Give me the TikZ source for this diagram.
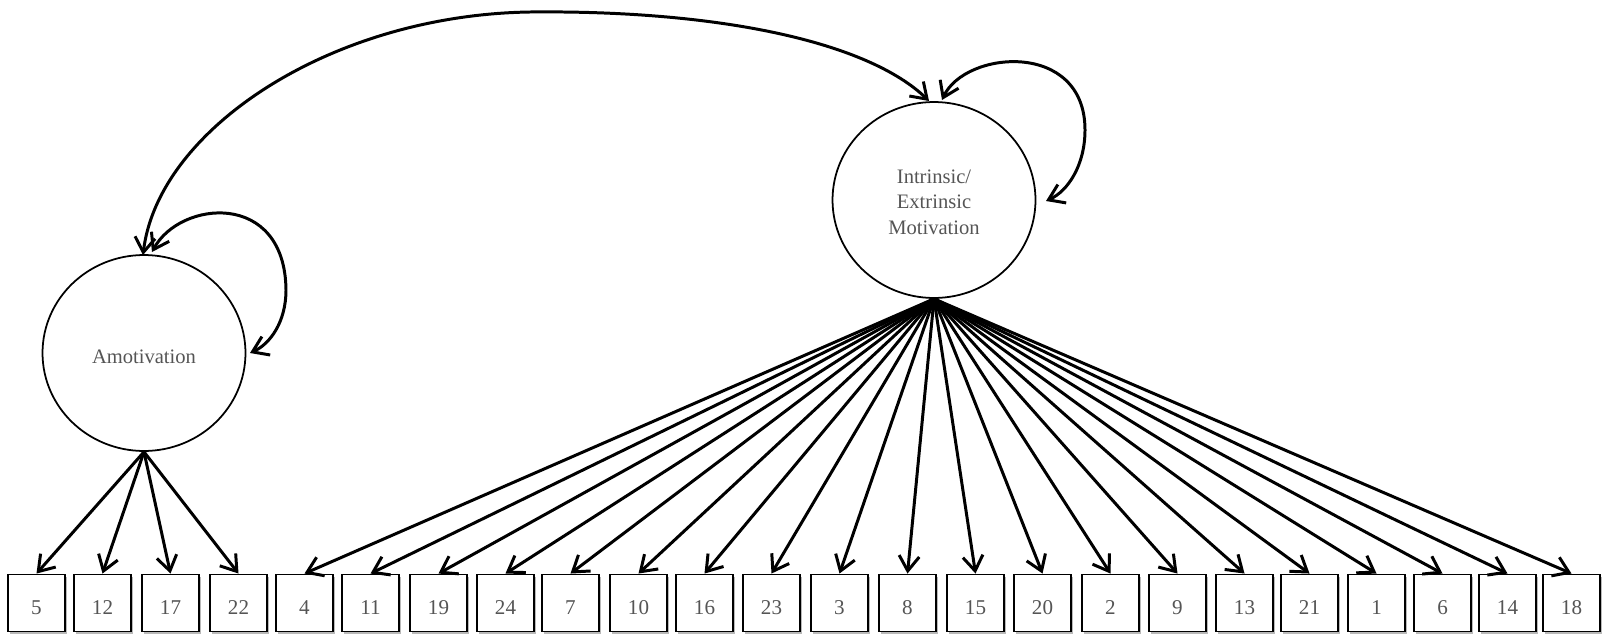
\documentclass[tikz,border=0pt]{standalone}
\usepackage{fontspec}
\setmainfont{Liberation Serif}
\usetikzlibrary{arrows.meta,shadows,shapes.geometric}
\definecolor{txtgray}{HTML}{555555}
\begin{document}
\begin{tikzpicture}[x=0.02cm,y=-0.02cm,
  latent/.style={ellipse,draw,line width=1pt,minimum width=4.06cm,minimum height=3.92cm,inner sep=0pt},
  lbltext/.style={inner sep=0pt,text=txtgray,font=\fontsize{11.7}{14.5}\selectfont,align=center},
  item/.style={rectangle,draw,line width=1.1pt,minimum size=1.14cm,inner sep=0pt,fill=white,
    text=txtgray,font=\fontsize{12}{14}\selectfont,text height=12.7pt,text depth=0pt,
    drop shadow={shadow xshift=0.045cm,shadow yshift=-0.045cm,fill=gray!55,opacity=1}},
  load/.style={-{Straight Barb[length=8.5pt,width=11.5pt]},line width=1.7pt},
  cov/.style={{Straight Barb[length=8.5pt,width=11.5pt]}-{Straight Barb[length=8.5pt,width=11.5pt]},line width=1.7pt},
]
\useasboundingbox (0,0) rectangle (1604,635);

\node[latent] (A) at (144,353) {};
\node[lbltext] (At) at (144,357) {Amotivation};
\node[latent] (I) at (934,200) {};
\node[lbltext] (It) at (934,202) {Intrinsic/\\Extrinsic\\Motivation};

\foreach \lab/\lx in {5/8,12/74,17/142,22/210}{
  \node[item] (b\lab) at (\lx+28.5,603) {\lab};
  \draw[load] (A.south) -- (b\lab.north);
}
\foreach \lab/\lx in {4/276,11/342,19/410,24/477,7/542,10/610,16/676,23/743,3/811,8/879,15/947,20/1014,2/1082,9/1149,13/1216,21/1281,1/1348,6/1414,14/1479,18/1543}{
  \node[item] (b\lab) at (\lx+28.5,603) {\lab};
  \draw[load] (I.south) -- (b\lab.north);
}

% covariance between factors
\coordinate (Atop) at (143,255);
\coordinate (Itop) at (929,101);
\draw[cov] (Atop) .. controls (158,130) and (330,15) .. (530,12)
  .. controls (720,10) and (868,42) .. (Itop);

% variances
\coordinate (Aloop) at (152,252);
\coordinate (Aend) at (250,353);
\draw[cov] (Aloop) .. controls (180,200) and (285,190) .. (286,290)
  .. controls (286,322) and (270,344) .. (Aend);

\coordinate (Iloop) at (942,100);
\coordinate (Iend) at (1046,201);
\draw[cov] (Iloop) .. controls (965,50) and (1085,40) .. (1085,130)
  .. controls (1085,165) and (1068,191) .. (Iend);
\end{tikzpicture}
\end{document}
